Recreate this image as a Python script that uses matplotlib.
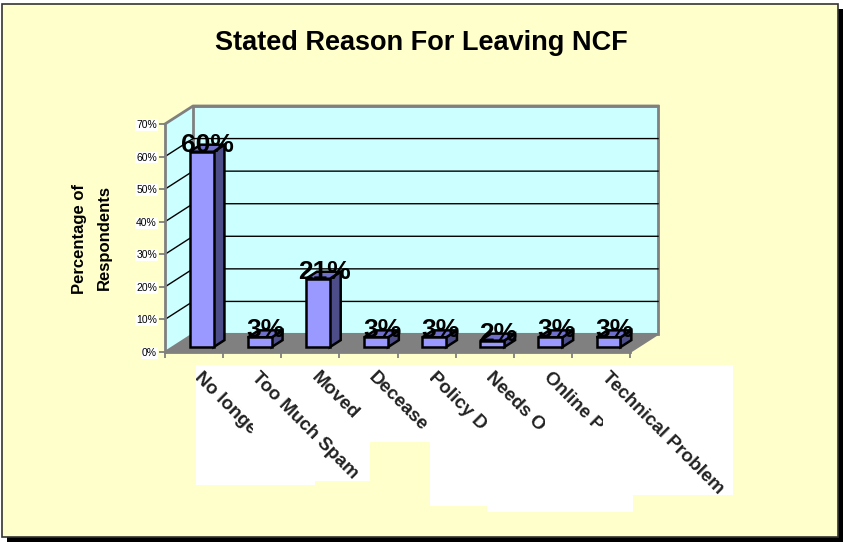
import matplotlib
matplotlib.use("Agg")
import matplotlib.pyplot as plt
from matplotlib.patches import Rectangle, Polygon
import numpy as np

# ---------------- data ----------------
categories = ["No longe", "Too Much Spam", "Moved", "Decease", "Policy D",
              "Needs O", "Online P", "Technical Problem"]
values = [60, 3, 21, 3, 3, 2, 3, 3]
value_labels = ["60%", "3%", "21%", "3%", "3%", "2%", "3%", "3%"]
yticks = [0, 10, 20, 30, 40, 50, 60, 70]
ytick_labels = ["0%", "10%", "20%", "30%", "40%", "50%", "60%", "70%"]
title = "Stated Reason For Leaving NCF"
ylabel_lines = ["Percentage of", "Respondents"]

# ---------------- layout / style ----------------
W, H = 844, 542
FONT = "Liberation Sans"
plt.rcParams["font.family"] = [FONT, "DejaVu Sans"]

BG = "#FFFFCC"
WALL = "#CCFFFF"
FLOOR = "#808080"
GRAY = "#808080"
FRONT = "#9999FF"
SIDE = "#4D4D8A"
TOP = "#7070CC"

DX, DY = 28.0, 18.0      # depth of the 3D box in pixels (display)
F0, F1 = 0.27, 0.66      # bar depth range
BW = 0.41                # bar width in category units

fig = plt.figure(figsize=(W / 100, H / 100), dpi=100)
fig.patch.set_facecolor("white")


def fig_rect(x0, y0, x1, y1, **kw):
    """rectangle given in pixel coords measured from top-left"""
    r = Rectangle((x0 / W, 1 - y1 / H), (x1 - x0) / W, (y1 - y0) / H,
                  transform=fig.transFigure, **kw)
    fig.add_artist(r)
    return r


# frame with shadow
fig_rect(7, 9, 843, 542, facecolor="black", edgecolor="none", zorder=-5)
fig_rect(2, 4, 838, 537, facecolor=BG, edgecolor="#333333", linewidth=1.2, zorder=-4)

ax = fig.add_axes([165 / W, 1 - 352 / H, 465 / W, 228 / H])
ax.set_xlim(0, len(categories))
ax.set_ylim(0, 70)
ax.patch.set_visible(False)
ax.set_zorder(1)

inv = ax.transData.inverted()


def P(x, y, d):
    disp = ax.transData.transform((x, y)) + d * np.array([DX, DY])
    return inv.transform(disp)


def poly(pts, **kw):
    p = Polygon(np.array(pts), closed=True, clip_on=False, **kw)
    ax.add_patch(p)
    return p


n = len(categories)
ymax = yticks[-1]

# walls
poly([P(0, 0, 0), P(0, ymax, 0), P(0, ymax, 1), P(0, 0, 1)],
     facecolor=WALL, edgecolor="none", zorder=1)
poly([P(0, 0, 1), P(n, 0, 1), P(n, ymax, 1), P(0, ymax, 1)],
     facecolor=WALL, edgecolor=GRAY, linewidth=2, zorder=1)
# gridlines
for v in yticks[1:-1]:
    pts = np.array([P(0, v, 0), P(0, v, 1), P(n, v, 1)])
    ax.plot(pts[:, 0], pts[:, 1], color="black", linewidth=1, zorder=2, clip_on=False)
top = np.array([P(0, ymax, 0), P(0, ymax, 1), P(n, ymax, 1)])
ax.plot(top[:, 0], top[:, 1], color=GRAY, linewidth=2, zorder=2, clip_on=False)
# floor
poly([P(0, 0, 0), P(n, 0, 0), P(n, 0, 1), P(0, 0, 1)],
     facecolor=FLOOR, edgecolor=GRAY, linewidth=1.5, zorder=3)

# bars
for i, v in enumerate(values):
    x0 = i + 0.5 - BW / 2
    x1 = i + 0.5 + BW / 2
    kw = dict(edgecolor="black", linewidth=1.8, joinstyle="miter", zorder=5)
    poly([P(x1, 0, F0), P(x1, 0, F1), P(x1, v, F1), P(x1, v, F0)], facecolor=SIDE, **kw)
    poly([P(x0, v, F0), P(x1, v, F0), P(x1, v, F1), P(x0, v, F1)], facecolor=TOP, **kw)
    poly([P(x0, 0, F0), P(x1, 0, F0), P(x1, v, F0), P(x0, v, F0)], facecolor=FRONT, **kw)

# value labels
for i, (v, lab) in enumerate(zip(values, value_labels)):
    xx = P(i + 0.5, v, 0.49)[0]
    yy = P(i + 0.5, v, F0)[1]
    ax.text(xx, yy, lab, ha="center", va="baseline", fontsize=19,
            fontweight="bold", color="black", zorder=8, clip_on=False)

# axes spines & ticks
for s in ["top", "right"]:
    ax.spines[s].set_visible(False)
for s in ["left", "bottom"]:
    ax.spines[s].set_color(GRAY)
    ax.spines[s].set_linewidth(2)
    ax.spines[s].set_zorder(6)
ax.set_yticks(yticks)
ax.set_yticklabels(ytick_labels)
ax.set_xticks(np.arange(n + 1))
ax.set_xticklabels([])
ax.tick_params(axis="both", direction="out", length=4.3, width=1.3, color=GRAY)
ax.tick_params(axis="y", labelsize=7.5, pad=1.5)
for t in ax.get_yticklabels():
    t.set_bbox(dict(facecolor="white", edgecolor="none", pad=0.6))

# title and y label
fig.text(421.5 / W, 1 - 50 / H, title, ha="center", va="baseline",
         fontsize=19.5, fontweight="bold")
fig.text(84 / W, 1 - 239 / H, ylabel_lines[0], rotation=90, rotation_mode="anchor",
         ha="center", va="baseline", fontsize=12, fontweight="bold")
fig.text(109 / W, 1 - 238 / H, ylabel_lines[1], rotation=90, rotation_mode="anchor",
         ha="center", va="baseline", fontsize=12, fontweight="bold")

# category labels on white boxes (x span in category units, bottom in px)
box_spans = [(0.533, 2.581, 485), (1.514, 3.527, 481), (2.546, 3.527, 424),
             (3.527, 4.559, 442), (4.559, 5.540, 506), (5.540, 6.538, 512),
             (6.538, 8.052, 512), (7.535, 9.772, 495)]
BOX_TOP = 365
for k, (lab, (xa, xb, yb)) in enumerate(zip(categories, box_spans)):
    px0 = ax.transData.transform((xa, 0))[0]
    px1 = ax.transData.transform((xb, 0))[0]
    r = fig_rect(px0, BOX_TOP, px1, yb, facecolor="white", edgecolor="none",
                 zorder=10 + 2 * k)
    t = fig.text((px0 + 7) / W, 1 - (BOX_TOP + 4) / H, lab, rotation=-45,
                 rotation_mode="anchor", ha="left", va="top", fontsize=13.5,
                 fontweight="bold", color="#222222", zorder=11 + 2 * k)
    t.set_clip_path(r)

fig.savefig("out.png", dpi=100, facecolor=fig.get_facecolor())
